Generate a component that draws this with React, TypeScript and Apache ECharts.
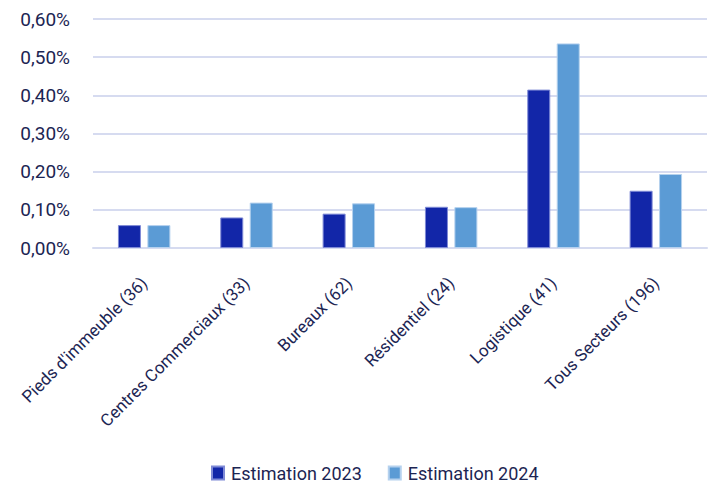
import React, { useEffect, useRef } from "react";
import * as echarts from "echarts";

const categories = [
  "Pieds d'immeuble (36)",
  "Centres Commerciaux (33)",
  "Bureaux (62)",
  "Résidentiel (24)",
  "Logistique (41)",
  "Tous Secteurs (196)",
];
const seriesNames = ["Estimation 2023", "Estimation 2024"];
const estimation2023 = [0.06, 0.08, 0.09, 0.108, 0.415, 0.15];
const estimation2024 = [0.06, 0.119, 0.117, 0.107, 0.536, 0.194];
const yMin = 0;
const yMax = 0.6;
const yStep = 0.1;

const FONT = "Roboto, 'Noto Sans', sans-serif";
const TEXT = "#1c2553";
const GRIDLINE = "#d6dbf0";

export default function App() {
  const ref = useRef<HTMLDivElement>(null);
  useEffect(() => {
    if (!ref.current) return;
    const chart = echarts.init(ref.current, null, { renderer: "svg" });
    chart.setOption({
      animation: false,
      backgroundColor: "#ffffff",
      textStyle: { fontFamily: FONT, color: TEXT },
      legend: {
        data: seriesNames,
        left: 206,
        top: 459,
        padding: 5,
        itemWidth: 12,
        itemHeight: 13,
        itemGap: 26,
        icon: "rect",
        textStyle: { fontFamily: FONT, fontSize: 18, color: TEXT, padding: [0, 0, 0, 2] },
      },
      grid: { left: 93, right: 6, top: 19, bottom: 238, containLabel: false },
      xAxis: {
        type: "category",
        data: categories,
        axisLine: { show: true, lineStyle: { color: GRIDLINE, width: 2 } },
        axisTick: { show: false },
        axisLabel: {
          show: true,
          rotate: 45,
          interval: 0,
          margin: 32,
          fontFamily: FONT,
          fontSize: 17,
          color: TEXT,
        },
      },
      yAxis: {
        type: "value",
        min: yMin,
        max: yMax,
        interval: yStep,
        axisLine: { show: false },
        axisTick: { show: false },
        splitLine: { show: true, lineStyle: { color: GRIDLINE, width: 2 } },
        axisLabel: {
          margin: 23,
          fontFamily: FONT,
          fontSize: 19,
          color: TEXT,
          formatter: (v: number) => v.toFixed(2).replace(".", ",") + "%",
        },
      },
      series: [
        {
          name: seriesNames[0],
          type: "bar",
          data: estimation2023,
          barWidth: 23,
          barGap: "28%",
          itemStyle: { color: "#1226a8", borderColor: "#7f8ad6", borderWidth: 1 },
        },
        {
          name: seriesNames[1],
          type: "bar",
          data: estimation2024,
          barWidth: 23,
          itemStyle: { color: "#5b9bd5", borderColor: "#b5d1ee", borderWidth: 1 },
        },
      ],
    });
    return () => chart.dispose();
  }, []);
  return <div ref={ref} style={{ width: 713, height: 486, position: "absolute", left: 0, top: 0 }} />;
}
